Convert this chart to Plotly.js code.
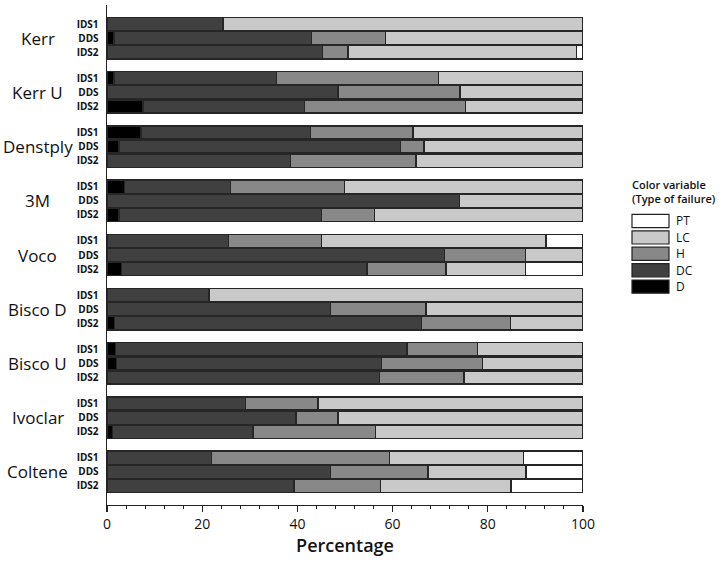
<!DOCTYPE html>
<html>
<head>
<meta charset="utf-8">
<script src="https://cdn.plot.ly/plotly-3.0.1.min.js"></script>
<style>html,body{margin:0;padding:0;background:#fff;}#chart{width:721px;height:562px;}</style>
</head>
<body>
<div id="chart"></div>
<script>
// ---- data ----
const companies = ['Kerr','Kerr U','Denstply','3M','Voco','Bisco D','Bisco U','Ivoclar','Coltene'];
const rowLabels = ['IDS1','DDS','IDS2'];
const failureTypes = ['D','DC','H','LC','PT'];
const legendOrder = ['PT','LC','H','DC','D'];
// values per failure type, order: company x (IDS1, DDS, IDS2)
const D  = [0,1.5,0,   1.5,0,7.6,   7.1,2.5,0,   3.7,0,2.5,   0,0,3.0,    0,0,1.6,    1.8,2.0,0,   0,0,1.1,    0,0,0];
const DC = [24.4,41.5,45.3, 34.1,48.5,33.9, 35.7,59.1,38.5, 22.2,74.1,42.5, 25.5,70.9,51.6, 21.4,46.9,64.5, 61.2,55.7,57.2, 29.1,39.7,29.6, 22.0,47.0,39.3];
const H  = [0,15.5,5.3, 34.1,25.7,33.8, 21.5,5.0,26.4, 24.0,0,11.2, 19.5,17.0,16.6, 0,20.1,18.7, 14.8,21.2,17.8, 15.2,8.8,25.7, 37.3,20.4,18.2];
const LC = [75.6,41.5,48.0, 30.3,25.8,24.7, 35.7,33.4,35.1, 50.1,25.9,43.8, 47.2,12.1,16.7, 78.6,33.0,15.2, 22.2,21.1,25.0, 55.7,51.5,43.6, 28.2,20.6,27.4];
const PT = [0,0,1.4,   0,0,0,   0,0,0,   0,0,0,   7.8,0,12.1,   0,0,0,   0,0,0,   0,0,0,   12.5,12.0,15.1];
const seriesValues = {D:D, DC:DC, H:H, LC:LC, PT:PT};
const colors = {D:'#000000', DC:'#404040', H:'#888888', LC:'#c9c9c9', PT:'#ffffff'};

// ---- positions ----
const groupPitch = 3.857;
const ypos = [], ytext = [];
companies.forEach((c,g)=>rowLabels.forEach((r,i)=>{ypos.push(g*groupPitch+i); ytext.push(r);}));

const traces = failureTypes.map(t=>({
  type:'bar', orientation:'h', name:t,
  x: seriesValues[t].map(v=>v===0?null:v),
  y: ypos,
  width: 0.94,
  marker:{color:colors[t], line:{color:'#262626', width:1.4}},
  showlegend:false,
  hoverinfo:'x+name'
}));

const annotations = companies.map((c,g)=>({
  xref:'paper', yref:'y', x:-0.145, y:g*groupPitch+1, text:c,
  showarrow:false, xanchor:'center', yanchor:'middle',
  font:{family:'Open Sans', size:17, color:'#111'}
}));

// legend (drawn manually)
const shapes = [];
const lx0 = (632-107)/476, lx1 = (669-107)/476;
legendOrder.forEach((t,i)=>{
  const yc = 1 - ((221 + i*16.4) - 5)/500;
  shapes.push({type:'rect', xref:'paper', yref:'paper', x0:lx0, x1:lx1, y0:yc-6.6/500, y1:yc+6.6/500,
    fillcolor:colors[t], line:{color:'#222', width:1.2}});
  annotations.push({xref:'paper', yref:'paper', x:(674-107)/476, y:yc, text:t, showarrow:false,
    xanchor:'left', yanchor:'middle', font:{family:'Open Sans', size:12, color:'#111'}});
});
annotations.push({xref:'paper', yref:'paper', x:(630-107)/476, y:1-(191-5)/500,
  text:'Color variable<br>(Type of failure)', showarrow:false, xanchor:'left', yanchor:'middle', align:'left',
  font:{family:'Open Sans', size:11, color:'#111', weight:600}});

const layout = {
  width:721, height:562,
  margin:{l:107, r:138, t:5, b:57},
  paper_bgcolor:'#fff', plot_bgcolor:'#fff',
  barmode:'stack', bargap:0,
  xaxis:{range:[0,100], dtick:20, tick0:0, ticks:'outside', ticklen:6, tickwidth:1.3, tickcolor:'#222',
    showline:true, linecolor:'#222', linewidth:1.4, showgrid:false, zeroline:false,
    minor:{dtick:4, tick0:0, ticks:'outside', ticklen:3, tickwidth:1, tickcolor:'#222', showgrid:false},
    tickfont:{family:'Open Sans', size:14, color:'#111'},
    title:{text:'Percentage', font:{family:'Open Sans', size:18, color:'#111', weight:600}, standoff:6}},
  yaxis:{range:[8*groupPitch+2+1.36, -1.36], tickvals:ypos, ticktext:ytext, ticks:'', showgrid:false,
    zeroline:false, showline:true, linecolor:'#222', linewidth:1.4,
    tickfont:{family:'Open Sans', size:10, color:'#111', weight:700}, ticklabelstandoff:5},
  annotations:annotations, shapes:shapes,
  showlegend:false
};
Plotly.newPlot('chart', traces, layout, {displayModeBar:false, staticPlot:true});
</script>
</body>
</html>
